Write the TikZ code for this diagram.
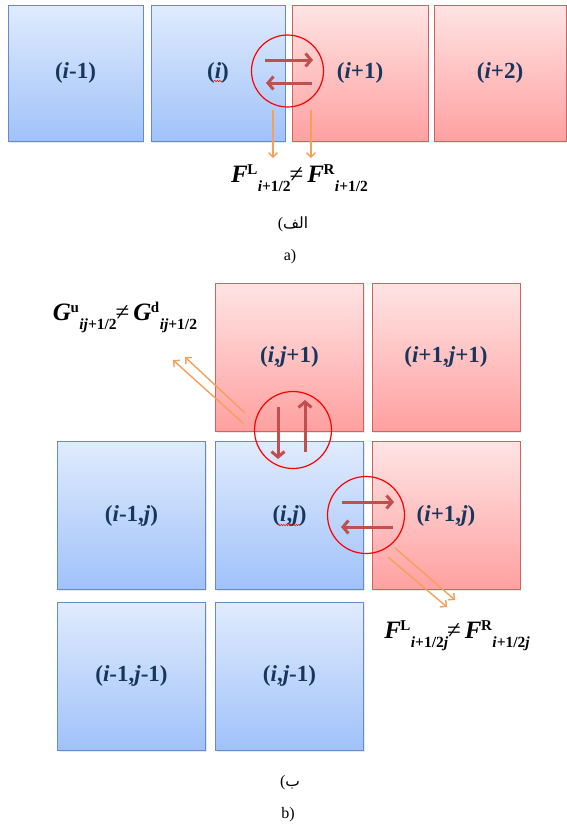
\documentclass[tikz,border=0pt]{standalone}
\usepackage{fontspec}
\setmainfont{Liberation Serif}
\newfontfamily\arabicfont[Script=Arabic]{DejaVu Sans}
\TeXXeTstate=1
\usetikzlibrary{arrows.meta,shadows,decorations.pathmorphing}
\definecolor{navy}{RGB}{23,54,93}
\definecolor{bluetop}{RGB}{224,235,253}
\definecolor{bluebot}{RGB}{160,194,249}
\definecolor{blueedge}{RGB}{100,140,200}
\definecolor{redtop}{RGB}{255,228,228}
\definecolor{redbot}{RGB}{255,160,160}
\definecolor{rededge}{RGB}{205,100,100}
\definecolor{flux}{RGB}{192,80,77}
\definecolor{orangeline}{RGB}{245,160,90}
\newcommand\fluxterm[3]{{\fontsize{25}{25}\selectfont\bfseries\itshape #1}\kern-0.5pt\raisebox{8pt}{\fontsize{15}{15}\selectfont\bfseries #2}\kern0.5pt\raisebox{-9pt}{\fontsize{15.5}{15.5}\selectfont\bfseries #3}}
\newcommand\neqsign{\kern-1pt{\fontsize{25}{25}\selectfont ≠}\kern4pt}
\tikzset{
  cell/.style={draw, line width=0.8pt, inner sep=0pt, font=\fontsize{23}{23}\selectfont\bfseries, text=navy,
    drop shadow={opacity=0.18, shadow xshift=1pt, shadow yshift=-1.5pt}},
  bluecell/.style={cell, draw=blueedge, top color=bluetop, bottom color=bluebot},
  redcell/.style={cell, draw=rededge, top color=redtop, bottom color=redbot},
  topcell/.style={minimum width=135pt, minimum height=136pt},
  gridcell/.style={minimum width=148pt, minimum height=148pt},
  ring/.style={draw=red, line width=1.2pt, circle, minimum size=74pt, inner sep=0pt},
  bigring/.style={ring, minimum size=77pt},
  fluxarrow/.style={draw=flux, line width=3pt, -{Straight Barb[length=5.5pt,width=13pt]}},
  orangearrow/.style={draw=orangeline, line width=1.4pt, -{Straight Barb[length=4.5pt,width=9pt]}},
  squiggle/.style={draw=red, line width=0.5pt, decorate, decoration={snake, amplitude=0.7pt, segment length=2.5pt}},
  caption/.style={font=\fontsize{16}{16}\selectfont},
  arcaption/.style={font=\fontsize{15.5}{15.5}\selectfont},
  eq/.style={anchor=base, inner sep=0pt},
}
\begin{document}
\begin{tikzpicture}[x=1pt, y=-1pt]
\useasboundingbox (0,0) rectangle (566,825);
% ---------- part a ----------
\node[bluecell, topcell] (c1) at (75.5,73) {(\textit{i}-1)};
\node[bluecell, topcell, minimum width=134pt] (c2) at (218,73) {(\textit{i})};
\node[redcell, topcell, minimum width=136pt] (c3) at (360,73) {(\textit{i}+1)};
\node[redcell, topcell, minimum width=132pt] (c4) at (500,73) {(\textit{i}+2)};
\coordinate (sqa1) at (214,81);
\coordinate (sqa2) at (223,81);
\draw[squiggle] (sqa1) -- (sqa2);

\node[ring, minimum size=72pt] (ringa) at (287.5,71) {};
\coordinate (fa1) at (265,60);  \coordinate (fa2) at (313,60);
\coordinate (fa3) at (312,83);  \coordinate (fa4) at (266,83);
\draw[fluxarrow] (fa1) -- (fa2);
\draw[fluxarrow] (fa3) -- (fa4);

\coordinate (oa1) at (273,110); \coordinate (oa2) at (273,158);
\coordinate (oa3) at (311,110); \coordinate (oa4) at (311,158);
\draw[orangearrow] (oa1) -- (oa2);
\draw[orangearrow] (oa3) -- (oa4);

\node[eq] (eqa) at (299.5,182) {\fluxterm{F}{L}{\textit{i}+1/2}\neqsign\fluxterm{F}{R}{\textit{i}+1/2}};
\node[arcaption] (capfa) at (293,224) {{\fontsize{16}{16}\selectfont(}\arabicfont\beginR الف\endR};
\node[caption] (capa) at (290,257) {a)};

% ---------- part b ----------
\node[redcell, gridcell] (b11) at (289.5,357) {(\textit{i},\textit{j}+1)};
\node[redcell, gridcell] (b12) at (446,357) {(\textit{i}+1,\textit{j}+1)};
\node[bluecell, gridcell] (b20) at (131.5,515.5) {(\textit{i}-1,\textit{j})};
\node[bluecell, gridcell] (b21) at (289.5,515.5) {(\textit{i},\textit{j})};
\node[redcell, gridcell] (b22) at (446,515.5) {(\textit{i}+1,\textit{j})};
\node[bluecell, gridcell] (b30) at (131.5,676) {(\textit{i}-1,\textit{j}-1)};
\node[bluecell, gridcell] (b31) at (289.5,676) {(\textit{i},\textit{j}-1)};
\coordinate (sqb1) at (278,525);
\coordinate (sqb2) at (300,525);
\draw[squiggle] (sqb1) -- (sqb2);

\node[bigring] (ringv) at (293,430) {};
\coordinate (fv1) at (278,407); \coordinate (fv2) at (278,459);
\coordinate (fv3) at (305,452); \coordinate (fv4) at (305,400);
\draw[fluxarrow] (fv1) -- (fv2);
\draw[fluxarrow] (fv3) -- (fv4);

\node[bigring] (ringh) at (366,515) {};
\coordinate (fh1) at (342,502); \coordinate (fh2) at (394,502);
\coordinate (fh3) at (393,527); \coordinate (fh4) at (341,527);
\draw[fluxarrow] (fh1) -- (fh2);
\draw[fluxarrow] (fh3) -- (fh4);

\coordinate (og1) at (245,413); \coordinate (og2) at (185,357);
\coordinate (og3) at (243,423); \coordinate (og4) at (173,360);
\draw[orangearrow] (og1) -- (og2);
\draw[orangearrow] (og3) -- (og4);

\coordinate (of1) at (395,548); \coordinate (of2) at (455,600);
\coordinate (of3) at (388,557); \coordinate (of4) at (447,607);
\draw[orangearrow] (of1) -- (of2);
\draw[orangearrow] (of3) -- (of4);

\node[eq] (eqg) at (125,320) {\fluxterm{G}{u}{\textit{ij}+1/2}\neqsign\fluxterm{G}{d}{\textit{ij}+1/2}};
\node[eq] (eqf) at (457,638) {\fluxterm{F}{L}{\textit{i}+1/2\textit{j}}\neqsign\fluxterm{F}{R}{\textit{i}+1/2\textit{j}}};
\node[arcaption] (capba) at (290,783) {{\fontsize{16}{16}\selectfont(}\arabicfont\beginR ب\endR};
\node[caption] (capb) at (288,815) {b)};
\end{tikzpicture}
\end{document}
